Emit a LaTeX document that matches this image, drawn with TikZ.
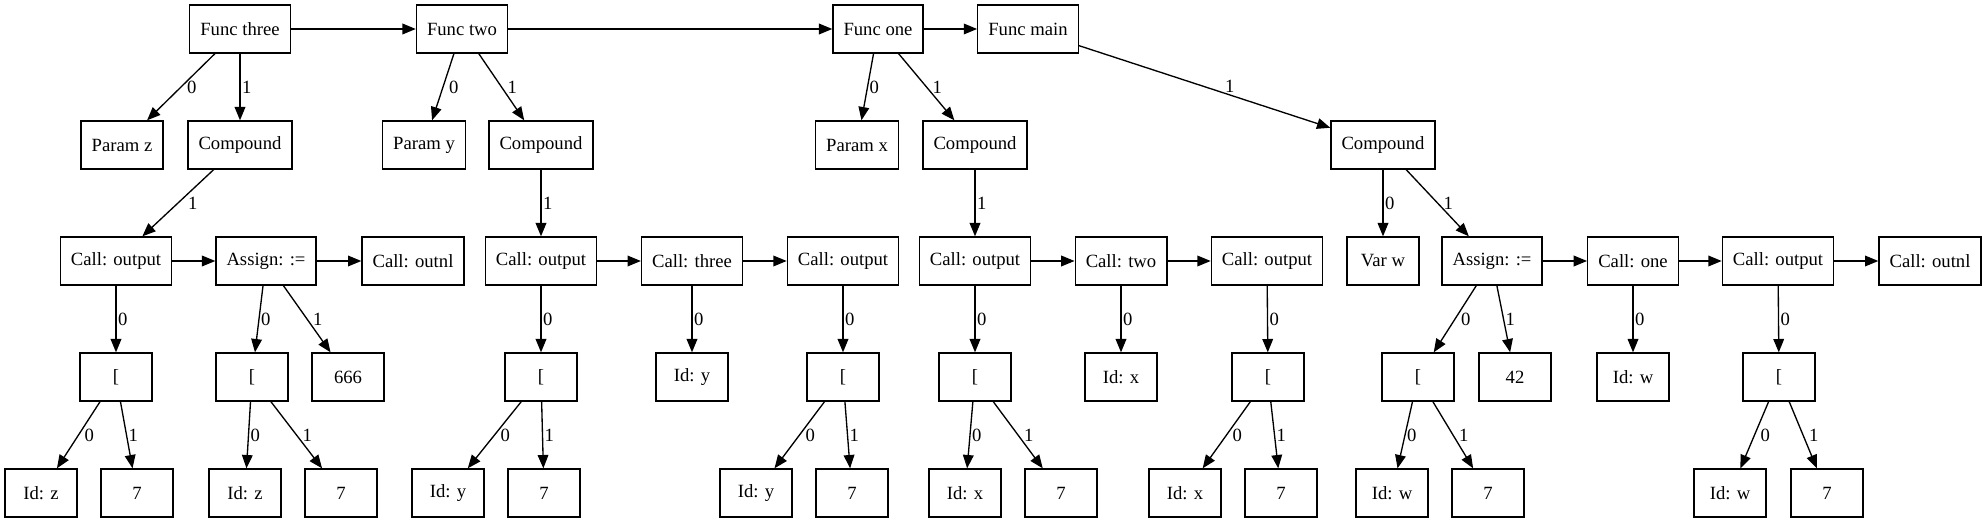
\documentclass[tikz,border=0pt]{standalone}
\usepackage{fontspec}
\setmainfont{Liberation Serif}
\usetikzlibrary{arrows.meta}
\begin{document}
\begin{tikzpicture}
      [x=0.75pt,y=-0.75pt,line width=1pt,>={Triangle[length=10pt,width=8pt]},
      every edge/.style={draw,->},
      tree node/.style={rectangle,draw,minimum width=54pt,minimum height=36pt,
        inner xsep=7.92pt,font=\fontsize{14}{16}\selectfont},
      lbl/.style={anchor=west,inner sep=1pt,font=\fontsize{14}{16}\selectfont},
      lbs/.style={lbl,xshift=3pt}]
      \useasboundingbox (0,0) rectangle (1984,523);
      % functions
      \node[tree node] (f3) at (240,29) {Func three};
      \node[tree node] (f2) at (462,29) {Func two};
      \node[tree node] (f1) at (878,29) {Func one};
      \node[tree node] (fm) at (1028,29) {Func main};
      % params and bodies
      \node[tree node] (pz) at (122,145) {Param z};
      \node[tree node] (cp3) at (240,145) {Compound};
      \node[tree node] (py) at (424,145) {Param y};
      \node[tree node] (cp2) at (541,145) {Compound};
      \node[tree node] (px) at (857,145) {Param x};
      \node[tree node] (cp1) at (975,145) {Compound};
      \node[tree node] (cpm) at (1383,145) {Compound};
      % statements
      \node[tree node] (out3a) at (116,261) {Call: output};
      \node[tree node] (asg3) at (266,261) {Assign: :=};
      \node[tree node] (nl3) at (413,261) {Call: outnl};
      \node[tree node] (out2a) at (541,261) {Call: output};
      \node[tree node] (call3) at (692,261) {Call: three};
      \node[tree node] (out2b) at (843,261) {Call: output};
      \node[tree node] (out1a) at (975,261) {Call: output};
      \node[tree node] (call2) at (1121,261) {Call: two};
      \node[tree node] (out1b) at (1267,261) {Call: output};
      \node[tree node] (varw) at (1383,261) {Var w};
      \node[tree node] (asgm) at (1492,261) {Assign: :=};
      \node[tree node] (call1) at (1633,261) {Call: one};
      \node[tree node] (outm) at (1778,261) {Call: output};
      \node[tree node] (nlm) at (1930,261) {Call: outnl};
      % arguments
      \node[tree node] (br3a) at (116,377) {[};
      \node[tree node] (br3b) at (252,377) {[};
      \node[tree node] (n666) at (348,377) {666};
      \node[tree node] (br2a) at (541,377) {[};
      \node[tree node] (idy) at (692,377) {Id: y};
      \node[tree node] (br2b) at (843,377) {[};
      \node[tree node] (br1a) at (975,377) {[};
      \node[tree node] (idx) at (1121,377) {Id: x};
      \node[tree node] (br1b) at (1268,377) {[};
      \node[tree node] (brma) at (1418,377) {[};
      \node[tree node] (n42) at (1515,377) {42};
      \node[tree node] (idw) at (1633,377) {Id: w};
      \node[tree node] (brmb) at (1779,377) {[};
      % indexing
      \node[tree node] (id3a) at (41,493) {Id: z};
      \node[tree node] (k3a) at (137,493) {7};
      \node[tree node] (id3b) at (245,493) {Id: z};
      \node[tree node] (k3b) at (341,493) {7};
      \node[tree node] (id2a) at (448,493) {Id: y};
      \node[tree node] (k2a) at (544,493) {7};
      \node[tree node] (id2b) at (756,493) {Id: y};
      \node[tree node] (k2b) at (852,493) {7};
      \node[tree node] (id1a) at (965,493) {Id: x};
      \node[tree node] (k1a) at (1061,493) {7};
      \node[tree node] (id1b) at (1185,493) {Id: x};
      \node[tree node] (k1b) at (1281,493) {7};
      \node[tree node] (idma) at (1392,493) {Id: w};
      \node[tree node] (kma) at (1488,493) {7};
      \node[tree node] (idmb) at (1730,493) {Id: w};
      \node[tree node] (kmb) at (1827,493) {7};
      % sequence
      \path (f3) edge (f2);
      \path (f2) edge (f1);
      \path (f1) edge (fm);
      \path (out3a) edge (asg3);
      \path (asg3) edge (nl3);
      \path (out2a) edge (call3);
      \path (call3) edge (out2b);
      \path (out1a) edge (call2);
      \path (call2) edge (out1b);
      \path (asgm) edge (call1);
      \path (call1) edge (outm);
      \path (outm) edge (nlm);
      % children
      \path (f3) edge node[lbs] {0} (pz);
      \path (f3) edge node[lbl] {1} (cp3);
      \path (f2) edge node[lbs] {0} (py);
      \path (f2) edge node[lbs] {1} (cp2);
      \path (f1) edge node[lbl] {0} (px);
      \path (f1) edge node[lbs] {1} (cp1);
      \path (fm) edge node[pos=0.6,above,inner sep=1pt,font=\fontsize{14}{16}\selectfont] {1} (cpm);
      \path (cp3) edge node[lbs,xshift=3pt] {1} (out3a);
      \path (cp2) edge node[lbl] {1} (out2a);
      \path (cp1) edge node[lbl] {1} (out1a);
      \path (cpm) edge node[lbl] {0} (varw);
      \path (cpm) edge node[lbs] {1} (asgm);
      \path (out3a) edge node[lbl] {0} (br3a);
      \path (asg3) edge node[lbl] {0} (br3b);
      \path (asg3) edge node[lbs] {1} (n666);
      \path (out2a) edge node[lbl] {0} (br2a);
      \path (call3) edge node[lbl] {0} (idy);
      \path (out2b) edge node[lbl] {0} (br2b);
      \path (out1a) edge node[lbl] {0} (br1a);
      \path (call2) edge node[lbl] {0} (idx);
      \path (out1b) edge node[lbl] {0} (br1b);
      \path (asgm) edge node[lbs] {0} (brma);
      \path (asgm) edge node[lbl] {1} (n42);
      \path (call1) edge node[lbl] {0} (idw);
      \path (outm) edge node[lbl] {0} (brmb);
      \path (br3a) edge node[lbs] {0} (id3a);
      \path (br3a) edge node[lbl] {1} (k3a);
      \path (br3b) edge node[lbl] {0} (id3b);
      \path (br3b) edge node[lbs] {1} (k3b);
      \path (br2a) edge node[lbs] {0} (id2a);
      \path (br2a) edge node[lbl] {1} (k2a);
      \path (br2b) edge node[lbs] {0} (id2b);
      \path (br2b) edge node[lbl] {1} (k2b);
      \path (br1a) edge node[lbl] {0} (id1a);
      \path (br1a) edge node[lbs] {1} (k1a);
      \path (br1b) edge node[lbs] {0} (id1b);
      \path (br1b) edge node[lbl] {1} (k1b);
      \path (brma) edge node[lbl] {0} (idma);
      \path (brma) edge node[lbs] {1} (kma);
      \path (brmb) edge node[lbs] {0} (idmb);
      \path (brmb) edge node[lbs] {1} (kmb);
\end{tikzpicture}
\end{document}
